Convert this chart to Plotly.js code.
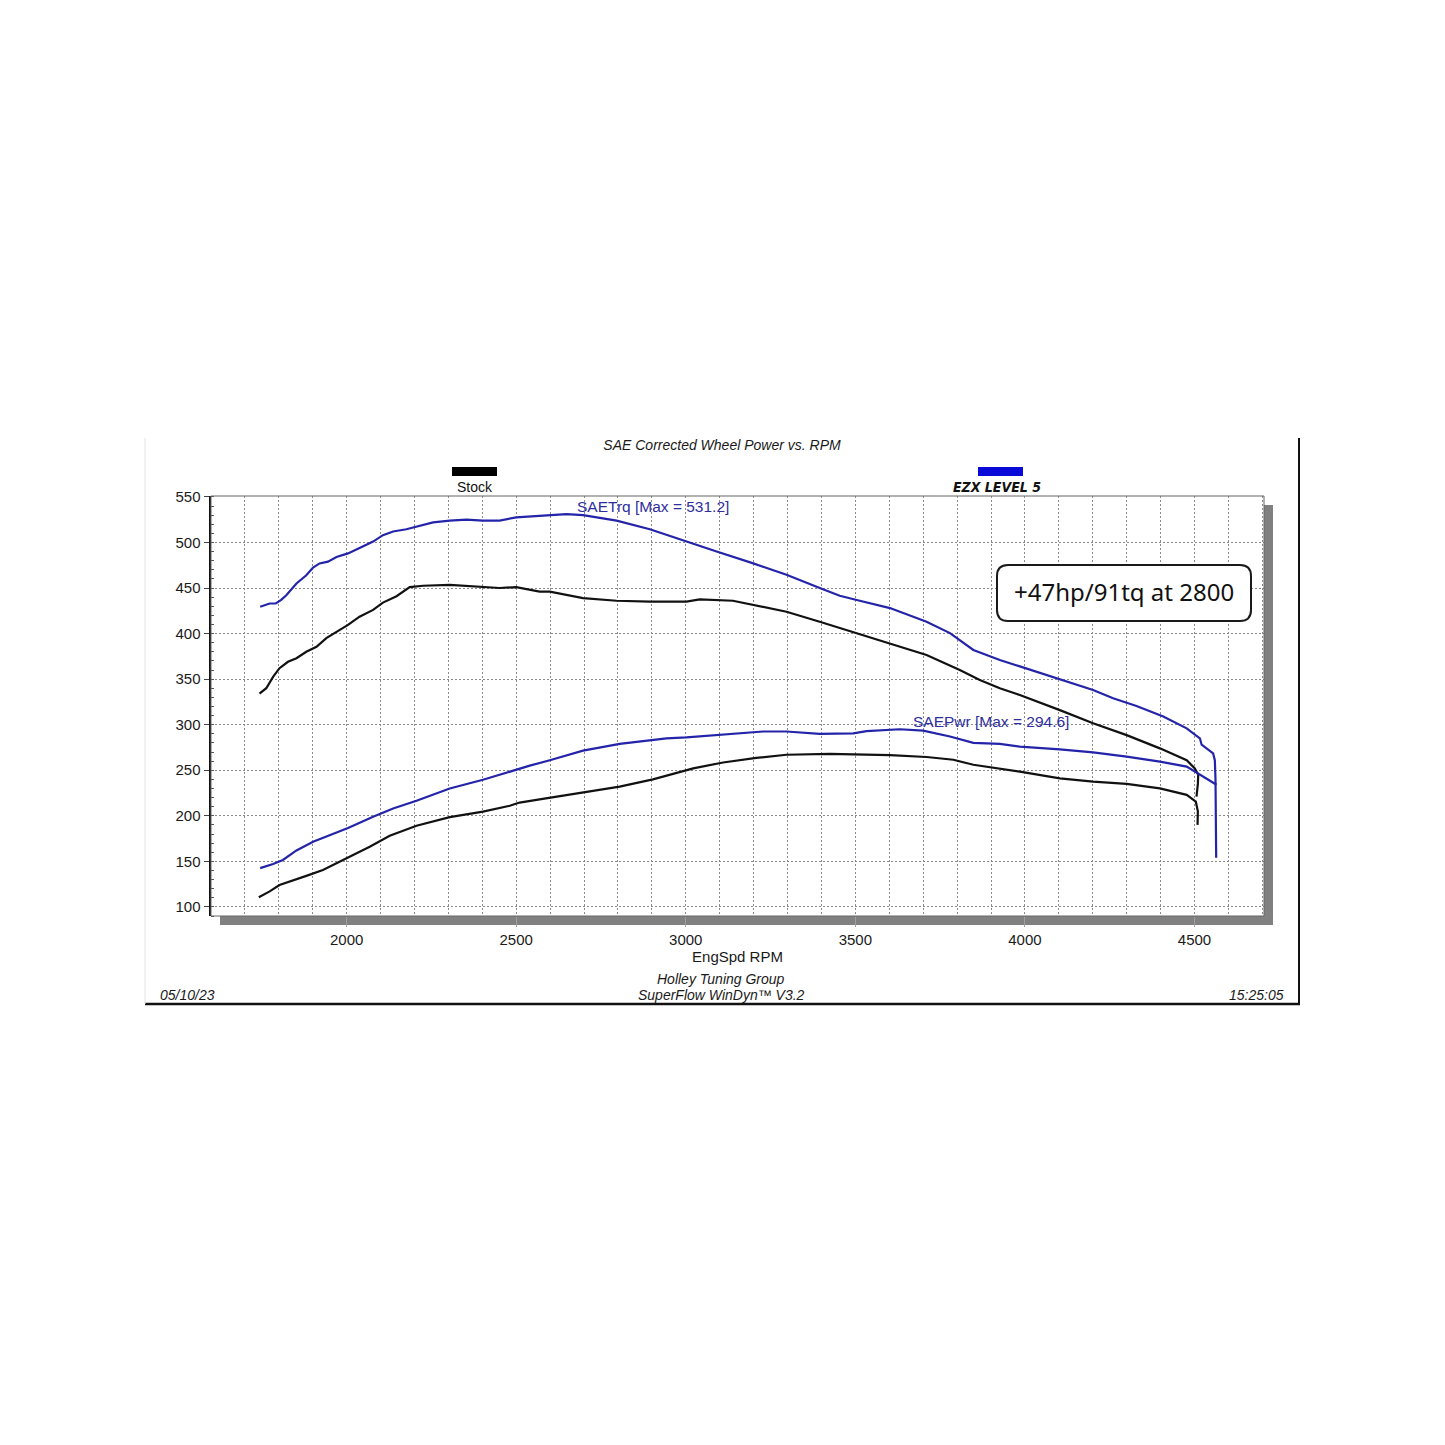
<!DOCTYPE html>
<html><head><meta charset="utf-8">
<script src="https://cdn.plot.ly/plotly-3.0.1.min.js"></script>
<style>html,body{margin:0;padding:0;background:#fff}</style>
</head><body><div id="chart" style="width:1445px;height:1445px"></div>
<script>
// ---- Data ----
const stockTrqRpm = [1743,1763,1783,1802,1827,1852,1881,1911,1940,1970,2004,2038,2078,2107,2147,2186,2225,2304,2353,2402,2451,2500,2569,2599,2697,2796,2894,3002,3041,3139,3199,3297,3395,3504,3602,3710,3808,3867,3926,3985,4103,4201,4300,4398,4477,4501,4511,4510,4506];
const stockTrq    = [334,340,352.5,362,369,373,380,385.5,395,402,409.5,418.5,426,434,441,451,452.5,453.5,452.5,451,450,451,446,446,439,436,435,435,437.5,436,431.5,424,413,400.5,389.5,376.5,360,349,340,332.5,316,301.5,288.5,274,261,252,245,235,221];

const stockPwrRpm = [1741,1773,1802,1842,1881,1930,1970,2004,2068,2127,2206,2304,2402,2481,2510,2569,2697,2805,2903,3022,3110,3208,3297,3425,3494,3602,3710,3789,3848,3926,3985,4103,4201,4300,4398,4477,4504,4510,4510,4509];
const stockPwr    = [110.5,117,124,129.5,134,140.5,148,154.5,166,178,189,198.5,204.5,211,214.5,218,225.5,232,240,252,258.5,263.5,267,268,267.5,266.5,264.5,261.5,256,252,248.5,241,237.5,235,230,223,215.5,205,195,190];

const ezxTrqRpm = [1745,1773,1791,1807,1822,1852,1881,1901,1920,1945,1970,2004,2038,2078,2107,2137,2176,2215,2255,2304,2353,2402,2451,2500,2569,2648,2697,2796,2894,2992,3091,3199,3297,3395,3454,3513,3602,3710,3779,3848,3926,3985,4103,4201,4260,4329,4408,4477,4516,4521,4555,4560,4562,4563,4564];
const ezxTrq    = [429.5,433,433,437,442,455,464,472.5,477,479,484,488,494,501,508,512,514.5,518,522,524,525,524,524,527.5,529,531,530,524,514.5,502,490,477,464.5,450,441.5,436,428,413,400.5,382,371,364,350,338,329,320.5,309,296,285,278,268.5,261,240,200,154];

const ezxPwrRpm = [1745,1783,1812,1852,1901,1950,2004,2078,2137,2206,2304,2402,2451,2500,2540,2599,2697,2805,2943,3002,3100,3228,3297,3395,3494,3533,3631,3700,3779,3848,3926,3985,4103,4201,4300,4398,4477,4516,4565];
const ezxPwr    = [142.5,147,151.5,162,171.5,179,186.5,199,208,216.5,230,239.5,245,251,255,261,271.5,279,285,286,288.5,292.5,292.5,290,290.5,293,295,293.5,287,280,279,276,273,269.5,265,259.5,254,245,234];

const seriesNames = ["Stock", "EZX LEVEL 5"];
const xTickVals = [2000, 2500, 3000, 3500, 4000, 4500];
const yTickVals = [100, 150, 200, 250, 300, 350, 400, 450, 500, 550];

// ---- Layout helpers (pixel -> paper) ----
const L = 211, T = 496, W = 1053, H = 420;
const fx = x => (x - L) / W;
const fy = y => (T + H - y) / H;

const BLACK = '#111111', BLUE = '#2424aa', LABEL_BLUE = '#2e2e9e';
const FONT = 'Liberation Sans, Arial, sans-serif';

function line(x, y, color, name) {
  return {x, y, type: 'scatter', mode: 'lines', name, showlegend: false,
          hoverinfo: 'skip', line: {color, width: 2.2, shape: 'linear'}};
}
const traces = [
  line(stockTrqRpm, stockTrq, BLACK, seriesNames[0] + ' SAETrq'),
  line(stockPwrRpm, stockPwr, BLACK, seriesNames[0] + ' SAEPwr'),
  line(ezxTrqRpm, ezxTrq, BLUE, seriesNames[1] + ' SAETrq'),
  line(ezxPwrRpm, ezxPwr, BLUE, seriesNames[1] + ' SAEPwr')
];

function rr(x0, y0, x1, y1, r) {
  const X = fx, Y = fy;
  return `M${X(x0+r)},${Y(y0)} L${X(x1-r)},${Y(y0)} Q${X(x1)},${Y(y0)} ${X(x1)},${Y(y0+r)} ` +
         `L${X(x1)},${Y(y1-r)} Q${X(x1)},${Y(y1)} ${X(x1-r)},${Y(y1)} L${X(x0+r)},${Y(y1)} ` +
         `Q${X(x0)},${Y(y1)} ${X(x0)},${Y(y1-r)} L${X(x0)},${Y(y0+r)} Q${X(x0)},${Y(y0)} ${X(x0+r)},${Y(y0)} Z`;
}

const shapes = [
  // drop shadow of plot area
  {type:'rect', xref:'paper', yref:'paper', layer:'below', x0:fx(220), x1:fx(1273), y0:fy(925), y1:fy(505),
   fillcolor:'#808080', line:{width:0}},
  // white plot area
  {type:'rect', xref:'paper', yref:'paper', layer:'below', x0:0, x1:1, y0:0, y1:1,
   fillcolor:'#ffffff', line:{width:0}},
  // plot outline
  {type:'rect', xref:'paper', yref:'paper', layer:'above', x0:0, x1:1, y0:0, y1:1,
   fillcolor:'rgba(0,0,0,0)', line:{color:'#666', width:1}},
  // outer frame (right and bottom heavy, left faint)
  {type:'line', xref:'paper', yref:'paper', x0:fx(1299), x1:fx(1299), y0:fy(438), y1:fy(1005), line:{color:'#111', width:2}},
  {type:'line', xref:'paper', yref:'paper', x0:fx(145), x1:fx(1300), y0:fy(1004), y1:fy(1004), line:{color:'#111', width:2.5}},
  {type:'line', xref:'paper', yref:'paper', x0:fx(145), x1:fx(145), y0:fy(438), y1:fy(1004), line:{color:'#e4e4e4', width:1}},
  // legend swatches
  {type:'rect', xref:'paper', yref:'paper', x0:fx(452), x1:fx(497), y0:fy(476), y1:fy(467), fillcolor:'#000', line:{width:0}},
  {type:'rect', xref:'paper', yref:'paper', x0:fx(978), x1:fx(1023), y0:fy(476), y1:fy(467), fillcolor:'#0a0ad8', line:{width:0}},
  // callout box
  {type:'path', xref:'paper', yref:'paper', layer:'above', path: rr(997, 565, 1251, 621, 11),
   fillcolor:'#ffffff', line:{color:'#1a1a1a', width:2}}
];

function ann(text, x, y, opts) {
  return Object.assign({text, xref:'paper', yref:'paper', x:fx(x), y:fy(y), showarrow:false,
    xanchor:'center', yanchor:'middle', font:{family:FONT, size:14, color:'#1a1a1a'}}, opts || {});
}

const annotations = [
  ann(seriesNames[0], 475, 487, {font:{family:FONT, size:14, color:'#111'}}),
  ann(seriesNames[1], 997, 487, {font:{family:'Liberation Sans Narrow, DejaVu Sans Condensed, sans-serif', size:14, color:'#111', weight:'bold', style:'italic'}}),
  ann('SAETrq [Max = 531.2]', 653, 506, {font:{family:FONT, size:15.5, color:LABEL_BLUE}}),
  ann('SAEPwr [Max = 294.6]', 991, 721, {font:{family:FONT, size:15.5, color:LABEL_BLUE}}),
  ann('+47hp/91tq at 2800', 1124, 591, {font:{family:'Noto Sans, sans-serif', size:24, color:'#111'}}),
  ann('Holley Tuning Group', 721, 979, {font:{family:FONT, size:14, color:'#1a1a1a', style:'italic'}}),
  ann('SuperFlow WinDyn™ V3.2', 721, 995, {font:{family:FONT, size:14, color:'#1a1a1a', style:'italic'}}),
  ann('05/10/23', 158, 995, {xanchor:'left', font:{family:FONT, size:14, color:'#1a1a1a', style:'italic'}}),
  ann('15:25:05', 1286, 995, {xanchor:'right', font:{family:FONT, size:14, color:'#1a1a1a', style:'italic'}})
];

const gridDash = '2px,2px';
const layout = {
  width: 1445, height: 1445,
  margin: {l: L, r: 1445 - L - W, t: T, b: 1445 - T - H, pad: 0},
  paper_bgcolor: '#ffffff',
  plot_bgcolor: 'rgba(0,0,0,0)',
  showlegend: false,
  hovermode: false,
  title: {text: 'SAE Corrected Wheel Power vs. RPM', xref:'container', yref:'container',
          x: 722/1445, y: 1 - 445/1445, xanchor:'center', yanchor:'middle',
          font: {family: FONT, size: 14, color: '#1a1a1a', style: 'italic'}},
  xaxis: {
    range: [1600, 4705], automargin: false,
    tickmode: 'array', tickvals: xTickVals, ticktext: xTickVals.map(String),
    ticks: 'outside', ticklen: 10, tickcolor: '#a0a0a0', tickwidth: 1,
    tickfont: {family: FONT, size: 15, color: '#1a1a1a'},
    showgrid: true, gridcolor: '#8a8a8a', griddash: gridDash, gridwidth: 1,
    minor: {dtick: 100, tick0: 1600, showgrid: true, gridcolor: '#8a8a8a', griddash: gridDash, gridwidth: 1},
    showline: false, zeroline: false,
    title: {text: 'EngSpd RPM', font: {family: FONT, size: 15, color: '#1a1a1a'}, standoff: 1}
  },
  yaxis: {
    range: [90, 551], automargin: false,
    tickmode: 'array', tickvals: yTickVals, ticktext: yTickVals.map(String),
    ticks: 'outside', ticklen: 5, tickcolor: '#444', tickwidth: 1,
    tickfont: {family: FONT, size: 15, color: '#1a1a1a'},
    showgrid: true, gridcolor: '#8a8a8a', griddash: gridDash, gridwidth: 1,
    minor: {dtick: 10, tick0: 100, ticks: 'inside', ticklen: 3, tickcolor: '#555', showgrid: false},
    showline: true, linecolor: '#111', linewidth: 2.5, zeroline: false
  },
  shapes, annotations
};

Plotly.newPlot('chart', traces, layout, {staticPlot: true, displayModeBar: false});
</script>
</body></html>
